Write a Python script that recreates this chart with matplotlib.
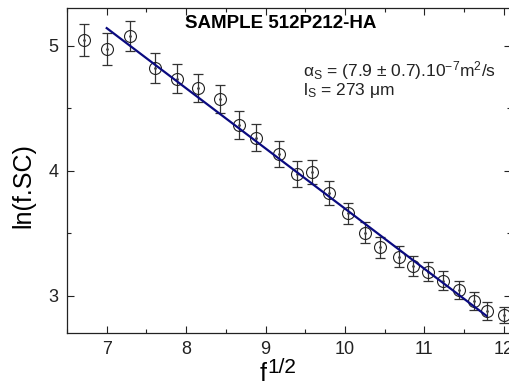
import numpy as np
import matplotlib
matplotlib.use("Agg")
import matplotlib.pyplot as plt
from matplotlib.ticker import MultipleLocator

plt.rcParams['font.family'] = ['Liberation Sans', 'DejaVu Sans']
plt.rcParams['mathtext.fontset'] = 'custom'
plt.rcParams['mathtext.rm'] = 'Liberation Sans'
plt.rcParams['mathtext.it'] = 'Liberation Sans:italic'
plt.rcParams['mathtext.bf'] = 'Liberation Sans:bold'

# data: sqrt(f) vs ln(f.SC)
sqrt_f = [6.71, 7.00, 7.29, 7.61, 7.89, 8.15, 8.43, 8.66, 8.885, 9.17, 9.39, 9.59,
          9.80, 10.04, 10.25, 10.44, 10.68, 10.86, 11.04, 11.23, 11.44, 11.62, 11.79, 12.00]
ln_fsc = [5.043, 4.971, 5.075, 4.819, 4.736, 4.659, 4.576, 4.363, 4.264, 4.131, 3.974, 3.987,
          3.819, 3.659, 3.504, 3.387, 3.312, 3.238, 3.192, 3.120, 3.046, 2.958, 2.880, 2.846]
err = [0.126, 0.126, 0.122, 0.120, 0.118, 0.112, 0.112, 0.112, 0.106, 0.104, 0.104, 0.096,
       0.096, 0.083, 0.083, 0.084, 0.082, 0.080, 0.076, 0.074, 0.074, 0.070, 0.072, 0.066]
fit_x = [7.00, 11.78]
fit_y = [5.139, 2.838]

W, H = 510, 381
fig = plt.figure(figsize=(W / 100, H / 100), dpi=100)
ax = fig.add_axes([67 / W, 1 - 333 / H, (511 - 67) / W, (333 - 8) / H])

ax.errorbar(sqrt_f, ln_fsc, yerr=err, fmt='none', ecolor='#333333', elinewidth=0.9,
            capsize=3.4, capthick=0.9, zorder=2)
ax.plot(sqrt_f, ln_fsc, linestyle='none', marker='o', markersize=8.6, markerfacecolor='none',
        markeredgecolor='#222222', markeredgewidth=0.8, zorder=3)
ax.plot(sqrt_f, ln_fsc, linestyle='none', marker='o', markersize=1.0, color='#444444', zorder=3)
ax.plot(fit_x, fit_y, color='#0a0a80', linewidth=1.6, zorder=4)

ax.set_xlim(6.5, 12.09)
ax.set_ylim(2.70, 5.30)
ax.xaxis.set_major_locator(MultipleLocator(1))
ax.xaxis.set_minor_locator(MultipleLocator(0.5))
ax.yaxis.set_major_locator(MultipleLocator(1))
ax.yaxis.set_minor_locator(MultipleLocator(0.5))
ax.tick_params(which='both', direction='in', top=True, right=True, colors='#222222',
               labelsize=13, pad=6)
ax.tick_params(which='major', length=5, width=0.8)
ax.tick_params(which='minor', length=3, width=0.8)
for s in ax.spines.values():
    s.set_linewidth(0.9)
    s.set_color('#222222')

fig.text(281 / W, 1 - 23 / H, 'SAMPLE 512P212-HA', fontsize=13.5, fontweight='bold',
         ha='center', va='center')
fig.text(303 / W, 1 - 76.5 / H, r'$\mathregular{α_S}$ = (7.9 ± 0.7).10$^{\mathregular{-7}}$m$^{\mathregular{2}}$/s',
         fontsize=12.5, ha='left', va='baseline', color='#222222')
fig.text(303 / W, 1 - 95 / H, r'$\mathregular{l_S}$ = 273 μm', fontsize=12.5, ha='left',
         va='baseline', color='#222222')

fig.text(23 / W, 1 - 186 / H, 'ln(f.SC)', fontsize=18, rotation=90, ha='center', va='center')
fig.text(260 / W, 1 - 381 / H, 'f', fontsize=18, ha='left', va='baseline')
fig.text(267 / W, 1 - 373 / H, '1/2', fontsize=15, ha='left', va='baseline')

fig.savefig('out.png', dpi=100)
